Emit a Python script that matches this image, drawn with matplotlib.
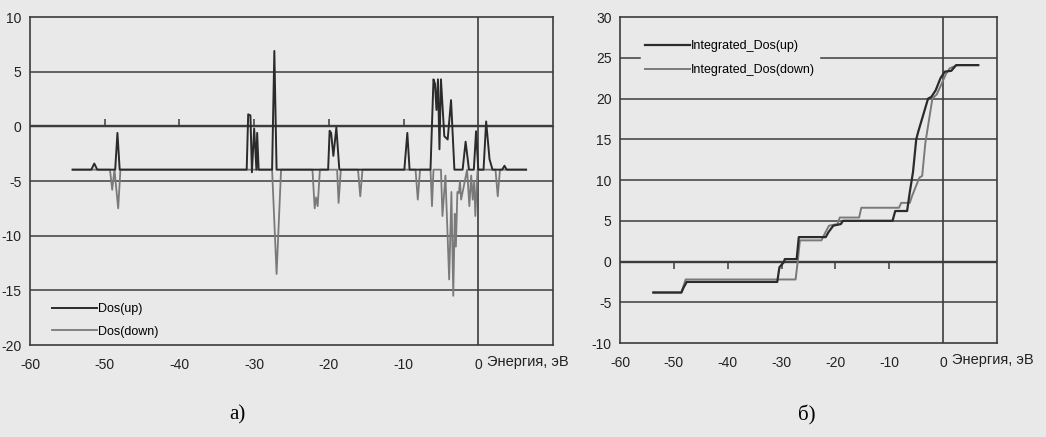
import numpy as np
import matplotlib
matplotlib.use("Agg")
import matplotlib.pyplot as plt

# --- данные ---
# а) плотность состояний (смещена на базовую линию ~ -3.96)
dos_up_x = [-54.3, -51.8, -51.4, -51.0, -48.6, -48.3, -48.0, -31.0, -30.8, -30.5, -30.3, -30.0,
            -29.7, -29.6, -29.4, -27.6, -27.3, -27.0, -20.1, -19.9, -19.7, -19.4, -19.0, -18.6,
            -9.9, -9.5, -9.2, -6.4, -6.0, -5.8, -5.6, -5.4, -5.2, -5.0, -4.55, -4.1, -3.65,
            -3.2, -2.1, -1.7, -1.25, -0.6, -0.3, 0.0, 0.7, 1.05, 1.5, 1.9, 3.2, 3.5, 3.8, 6.4]
dos_up_y = [-3.96, -3.96, -3.4, -3.96, -3.96, -0.6, -3.96, -3.96, 1.1, 1.0, -4.2, -0.2,
            -3.96, -0.6, -3.96, -3.96, 6.9, -3.96, -3.96, -0.4, -0.6, -2.7, -0.1, -3.96,
            -3.96, -0.6, -3.96, -3.96, 4.3, 3.9, 1.5, 4.3, -2.1, 4.3, -0.9, -1.2, 2.4,
            -3.96, -3.96, -1.4, -3.96, -3.96, -0.45, -3.96, -3.96, 0.45, -3.0, -3.96, -3.96, -3.6, -3.96, -3.96]

dos_down_x = [-54.3, -49.3, -49.0, -48.7, -48.2, -47.9, -27.6, -27.0, -26.4, -22.2, -21.9, -21.7,
              -21.5, -21.2, -18.9, -18.7, -18.4, -16.1, -15.8, -15.5, -8.4, -8.1, -7.8, -6.4,
              -6.2, -6.0, -5.0, -4.8, -4.4, -3.9, -3.6, -3.35, -3.15, -3.0, -2.8, -2.6, -2.45,
              -2.3, -1.5, -1.2, -0.95, -0.75, -0.55, -0.4, -0.1, 2.3, 2.6, 2.9, 6.4]
dos_down_y = [-3.96, -3.96, -5.8, -3.96, -7.5, -3.96, -3.96, -13.5, -3.96, -3.96, -7.5, -6.5,
              -7.3, -3.96, -3.96, -7.0, -3.96, -3.96, -6.4, -3.96, -3.96, -6.7, -3.96, -3.96,
              -7.3, -3.96, -3.96, -8.2, -4.5, -14.0, -6.0, -15.5, -8.0, -11.0, -6.0, -6.1, -5.0,
              -6.7, -3.96, -7.3, -4.5, -6.7, -5.0, -8.2, -3.96, -3.96, -6.4, -3.96, -3.96]

# б) интегральная плотность состояний
int_up_x = [-53.8, -48.6, -48.2, -47.6, -30.8, -30.4, -29.6, -29.4, -27.2, -26.8, -21.8, -21.3,
            -20.4, -19.0, -18.6, -9.4, -8.9, -6.7, -6.2, -5.6, -5.0, -4.6, -2.8, -2.2, -1.4,
            -0.5, 0.3, 1.5, 2.4, 6.5]
int_up_y = [-3.8, -3.8, -3.2, -2.5, -2.5, -0.7, -0.1, 0.3, 0.3, 3.0, 3.0, 3.6,
            4.4, 4.6, 5.0, 5.0, 6.2, 6.2, 8.5, 11.0, 15.0, 16.0, 20.0, 20.2, 21.0,
            22.5, 23.3, 23.4, 24.1, 24.1]

int_down_x = [-53.8, -48.6, -48.2, -47.8, -27.4, -27.0, -26.6, -22.6, -22.0, -21.2, -19.6, -19.2,
              -15.6, -15.2, -8.2, -7.8, -6.2, -5.8, -5.2, -4.4, -3.9, -3.3, -2.0, -1.2, -0.5,
              0.5, 1.2, 2.6, 6.5]
int_down_y = [-3.8, -3.8, -3.0, -2.2, -2.2, 0.0, 2.6, 2.6, 3.4, 4.4, 4.6, 5.4,
              5.4, 6.6, 6.6, 7.2, 7.2, 8.0, 9.0, 10.3, 10.5, 14.6, 20.0, 20.5, 21.5,
              23.0, 23.7, 24.1, 24.1]

x_ticks = [-60, -50, -40, -30, -20, -10, 0]
zero_ticks = [-50, -40, -30, -20, -10]

bg = "#e9e9e9"
dark = "#2b2b2b"
light = "#7a7a7a"
grid = "#3c3c3c"

plt.rcParams['font.family'] = ['Liberation Sans', 'DejaVu Sans']
plt.rcParams['axes.unicode_minus'] = False

fig = plt.figure(figsize=(10.46, 4.37), dpi=100, facecolor=bg)
ax1 = fig.add_axes([0.0287, 0.2105, 0.50, 0.7505])
ax2 = fig.add_axes([0.5927, 0.215, 0.3605, 0.746])


def setup(ax, ymin, ymax):
    ax.set_facecolor(bg)
    ax.set_xlim(-60, 10)
    ax.set_ylim(ymin, ymax)
    ax.set_xticks(x_ticks)
    ax.set_yticks(np.arange(ymin, ymax + 1, 5))
    ax.tick_params(length=0, labelsize=10, colors="#222222", pad=6)
    ax.tick_params(axis='x', pad=9)
    for s in ax.spines.values():
        s.set_color(grid)
        s.set_linewidth(1.2)
    for yv in np.arange(ymin + 5, ymax, 5):
        ax.axhline(yv, color=grid, lw=1.7 if yv == 0 else 1.1, zorder=1)
    ax.axvline(0, color=grid, lw=1.2, zorder=1)
    # метки на линии y = 0
    sec = ax.secondary_xaxis((0 - ymin) / (ymax - ymin))
    sec.set_xticks(zero_ticks)
    sec.set_xticklabels([])
    sec.tick_params(length=5, width=1.1, color=grid, labelbottom=False, labeltop=False)
    sec.spines['bottom'].set_visible(False)
    ax.annotate('Энергия, эВ', xy=(0, 0), xycoords=('data', 'axes fraction'),
                xytext=(9, -17), textcoords='offset pixels', fontsize=10.5,
                ha='left', va='center', color="#222222", annotation_clip=False)


setup(ax1, -20, 10)
ax1.plot(dos_up_x, dos_up_y, color=dark, lw=1.4, label='Dos(up)', zorder=3)
ax1.plot(dos_down_x, dos_down_y, color=light, lw=1.3, label='Dos(down)', zorder=2)
ax1.legend(loc='lower left', bbox_to_anchor=(0.02, -0.012), fontsize=9, frameon=False,
           handlelength=3.6, handletextpad=0.1, labelspacing=0.85)

setup(ax2, -10, 30)
ax2.plot(int_up_x, int_up_y, color=dark, lw=1.6, label='Integrated_Dos(up)', zorder=3)
ax2.plot(int_down_x, int_down_y, color=light, lw=1.4, label='Integrated_Dos(down)', zorder=2)
leg = ax2.legend(loc='upper left', bbox_to_anchor=(0.04, 0.96), fontsize=9, frameon=True,
                 handlelength=3.6, handletextpad=0.1, labelspacing=0.95, fancybox=False,
                 borderpad=0.3)
leg.get_frame().set_facecolor(bg)
leg.get_frame().set_edgecolor(bg)
leg.get_frame().set_alpha(1)

fig.text(0.2266, 0.05, 'а)', fontsize=15, family='Liberation Serif', ha='center', va='center')
fig.text(0.771, 0.05, 'б)', fontsize=15, family='Liberation Serif', ha='center', va='center')

fig.savefig('out.png', dpi=100, facecolor=bg)
